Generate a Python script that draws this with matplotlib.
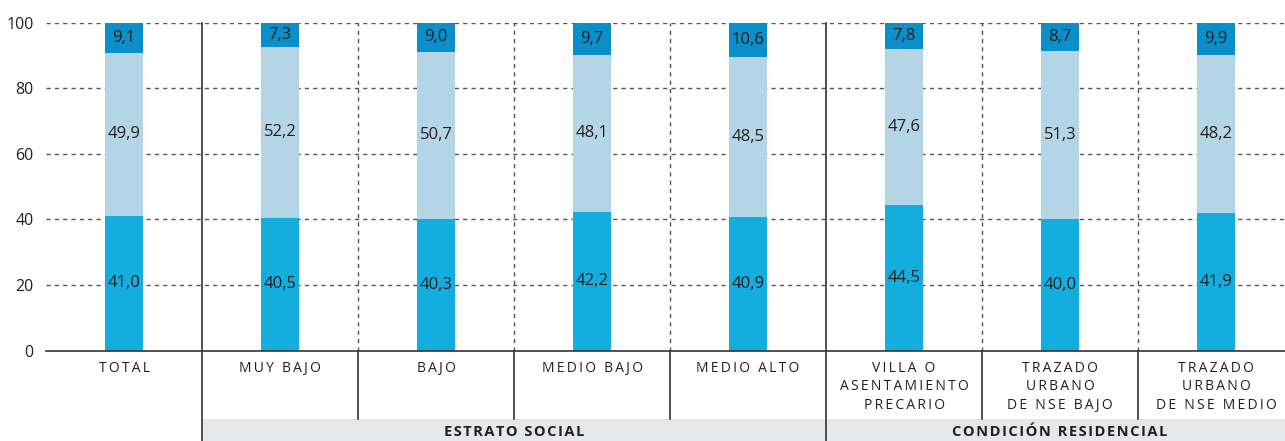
import matplotlib.pyplot as plt
from matplotlib.patches import Rectangle
import numpy as np

plt.rcParams['font.family'] = ['Open Sans', 'DejaVu Sans']

categories = ["TOTAL", "MUY BAJO", "BAJO", "MEDIO BAJO", "MEDIO ALTO",
              "VILLA O\nASENTAMIENTO\nPRECARIO",
              "TRAZADO\nURBANO\nDE NSE BAJO",
              "TRAZADO\nURBANO\nDE NSE MEDIO"]
bajo_vals = [41.0, 40.5, 40.3, 42.2, 40.9, 44.5, 40.0, 41.9]
medio_vals = [49.9, 52.2, 50.7, 48.1, 48.5, 47.6, 51.3, 48.2]
alto_vals = [9.1, 7.3, 9.0, 9.7, 10.6, 7.8, 8.7, 9.9]
groups = ["ESTRATO SOCIAL", "CONDICIÓN RESIDENCIAL"]
group_spans = [(1, 4), (5, 7)]
yticks = [0, 20, 40, 60, 80, 100]

c_low = '#13AEDD'
c_mid = '#B4D5E5'
c_top = '#0A8FC8'
ink = '#231F20'


def track(s, sp):
    # widen letter spacing by putting a narrow space between characters
    return '\n'.join(sp.join(line) for line in s.split('\n'))


fig = plt.figure(figsize=(12.85, 4.41), dpi=100)
ax = fig.add_axes([46 / 1285, 1 - 350.7 / 441, 1 - 46 / 1285, 328 / 441])

x = np.arange(len(categories))
w = 0.244
bajo = np.array(bajo_vals)
medio = np.array(medio_vals)
alto = np.array(alto_vals)

ax.bar(x, bajo, w, color=c_low, zorder=3)
ax.bar(x, medio, w, bottom=bajo, color=c_mid, zorder=3)
ax.bar(x, alto, w, bottom=bajo + medio, color=c_top, zorder=3)

for i in x:
    segs = [(bajo[i], 0), (medio[i], bajo[i]), (alto[i], bajo[i] + medio[i])]
    for v, b in segs:
        ax.text(i, b + v / 2, f"{v:.1f}".replace('.', ','), ha='center',
                va='center', fontsize=12, color=ink, zorder=4)

ax.set_xlim(-0.5, 7.442)
ax.set_ylim(0, 100)

# horizontal dashed grid
for t in yticks[1:]:
    ax.axhline(t, color='#555555', lw=1, dashes=(3, 3), zorder=1)

# separators between categories
xt = ax.get_xaxis_transform()
for i in range(len(categories) - 1):
    sx = i + 0.5
    if i in (0, 4):
        ax.plot([sx, sx], [1, -0.3], transform=xt, color='#333333', lw=1.2,
                clip_on=False, zorder=2)
    else:
        ax.plot([sx, sx], [0, 1], transform=xt, color='#555555', lw=1,
                dashes=(3, 3), zorder=1)
        ax.plot([sx, sx], [0, -0.208], transform=xt, color='#333333', lw=1.2,
                clip_on=False, zorder=2)

# gray band for group names
ax.add_patch(Rectangle((0.5, -0.3), 7.5, 0.3 - 0.208, transform=xt,
                       facecolor='#E6E7E8', edgecolor='none', clip_on=False,
                       zorder=0))
for name, (a, b) in zip(groups, group_spans):
    ax.text((a + b) / 2, -0.248, track(name, '\u200a'), transform=xt,
            ha='center', va='center', fontsize=10.5, fontweight='bold',
            color=ink)

for i, lab in enumerate(categories):
    ax.text(i, -0.031, track(lab, '\u2009'), transform=xt, ha='center',
            va='top', fontsize=10, color=ink, linespacing=1.33)

ax.set_xticks([])
ax.set_yticks(yticks)
ax.tick_params(axis='y', length=0, pad=9, labelsize=11.5, labelcolor=ink)
for s in ['top', 'right', 'left']:
    ax.spines[s].set_visible(False)
ax.spines['bottom'].set_color('#333333')
ax.spines['bottom'].set_linewidth(1.2)
ax.spines['bottom'].set_zorder(5)

fig.savefig('out.png', dpi=100)
